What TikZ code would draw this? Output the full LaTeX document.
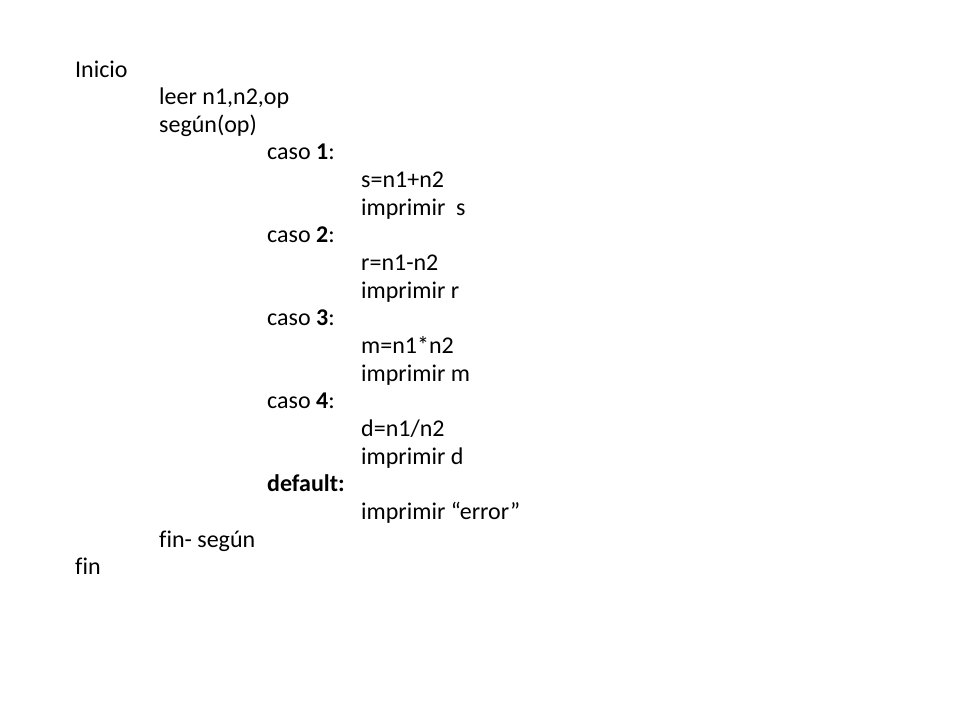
\documentclass[tikz,border=0pt]{standalone}
\usepackage{fontspec}
\setmainfont{Carlito}[Ligatures={NoCommon}]
\begin{document}
\begin{tikzpicture}[x=1pt,y=-1pt,
  ln/.style={anchor=base west,inner sep=0pt,font=\fontsize{24}{28}\selectfont}]
\useasboundingbox[fill=white] (0,0) rectangle (960,720);
\def\L#1{77+27.65*#1}
\node[ln] (l0) at (75,{\L{0}}) {Inicio};
\node[ln] (l1) at (159,{\L{1}}) {leer n1,n2,op};
\node[ln] (l2) at (159,{\L{2}}) {según(op)};
\node[ln] (l3) at (267,{\L{3}}) {caso \textbf{1}:};
\node[ln] (l4) at (361,{\L{4}}) {s=n1+n2};
\node[ln] (l5) at (361,{\L{5}}) {imprimir\ \ s};
\node[ln] (l6) at (267,{\L{6}}) {caso \textbf{2}:};
\node[ln] (l7) at (361,{\L{7}}) {r=n1-n2};
\node[ln] (l8) at (361,{\L{8}}) {imprimir r};
\node[ln] (l9) at (267,{\L{9}}) {caso \textbf{3}:};
\node[ln] (l10) at (361,{\L{10}}) {m=n1*n2};
\node[ln] (l11) at (361,{\L{11}}) {imprimir m};
\node[ln] (l12) at (267,{\L{12}}) {caso \textbf{4}:};
\node[ln] (l13) at (361,{\L{13}}) {d=n1/n2};
\node[ln] (l14) at (361,{\L{14}}) {imprimir d};
\node[ln] (l15) at (267,{\L{15}}) {\textbf{default:}};
\node[ln] (l16) at (361,{\L{16}}) {imprimir “error”};
\node[ln] (l17) at (159,{\L{17}}) {fin- según};
\node[ln] (l18) at (75,{\L{18}}) {fin};
\end{tikzpicture}
\end{document}
